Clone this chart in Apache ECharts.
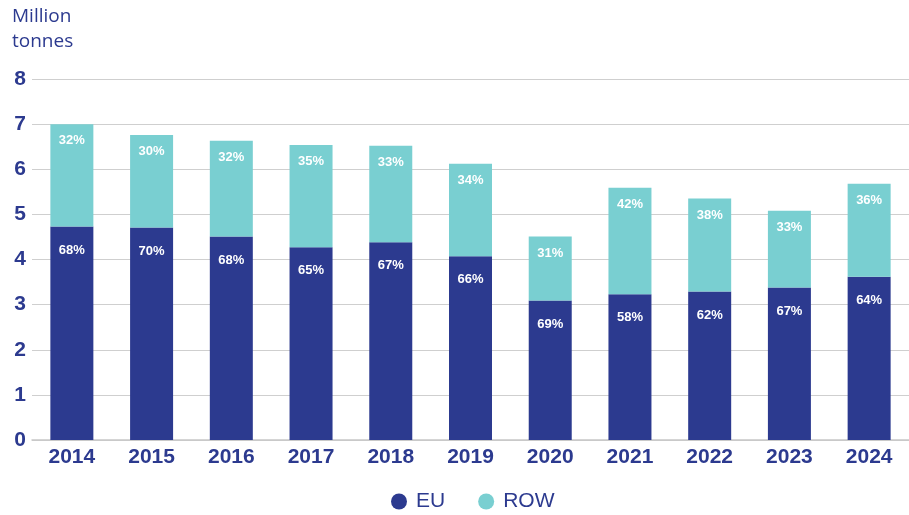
<!DOCTYPE html>
<html>
<head>
<meta charset="utf-8">
<script src="https://cdn.jsdelivr.net/npm/echarts@6/dist/echarts.min.js"></script>
<style>
  html, body { margin: 0; padding: 0; background: #ffffff; }
  #chart { width: 909px; height: 515px; }
</style>
</head>
<body>
<div id="chart"></div>
<script>
// years on the x axis
var years = ['2014', '2015', '2016', '2017', '2018', '2019', '2020', '2021', '2022', '2023', '2024'];
// million tonnes
var euValues  = [4.73, 4.71, 4.51, 4.27, 4.38, 4.07, 3.09, 3.23, 3.29, 3.38, 3.62];
var rowValues = [2.27, 2.05, 2.12, 2.27, 2.14, 2.05, 1.42, 2.36, 2.06, 1.70, 2.06];
// share labels printed on the bars
var euShare  = ['68%', '70%', '68%', '65%', '67%', '66%', '69%', '58%', '62%', '67%', '64%'];
var rowShare = ['32%', '30%', '32%', '35%', '33%', '34%', '31%', '42%', '38%', '33%', '36%'];
var yTicks = [0, 1, 2, 3, 4, 5, 6, 7, 8];

var navy = '#2c3a8f';
var teal = '#79cfd1';

var chart = echarts.init(document.getElementById('chart'), null, { renderer: 'canvas' });

var option = {
    backgroundColor: '#ffffff',
    animation: false,
    title: {
        text: 'Million\ntonnes',
        left: 12,
        top: 4,
        padding: 0,
        textStyle: {
            color: navy,
            fontFamily: 'Open Sans',
            fontWeight: 'normal',
            fontSize: 19,
            lineHeight: 25
        }
    },
    legend: {
        top: 491,
        left: 391,
        padding: 0,
        icon: 'circle',
        itemWidth: 16,
        itemHeight: 16,
        itemGap: 33,
        textStyle: {
            color: navy,
            fontFamily: 'Liberation Sans',
            fontSize: 21,
            padding: [0, 0, 0, 4]
        },
        data: ['EU', 'ROW']
    },
    grid: {
        left: 32,
        right: -4,
        top: 79,
        bottom: 75
    },
    xAxis: {
        type: 'category',
        data: years,
        axisTick: { show: false },
        axisLine: { show: true, lineStyle: { color: '#c8c8c8', width: 1.5 } },
        axisLabel: {
            color: navy,
            fontFamily: 'Liberation Sans',
            fontWeight: 'bold',
            fontSize: 21,
            margin: 7
        }
    },
    yAxis: {
        type: 'value',
        min: yTicks[0],
        max: yTicks[yTicks.length - 1],
        interval: 1,
        axisLine: { show: false },
        axisTick: { show: false },
        splitLine: { lineStyle: { color: '#cfcfcf', width: 1.2 } },
        axisLabel: {
            color: navy,
            fontFamily: 'Liberation Sans',
            fontWeight: 'bold',
            fontSize: 21,
            margin: 6
        }
    },
    series: [
        {
            name: 'EU',
            type: 'bar',
            stack: 'total',
            barWidth: 43,
            data: euValues,
            itemStyle: { color: navy },
            label: {
                show: true,
                position: 'insideTop',
                distance: 17,
                color: '#ffffff',
                fontFamily: 'Liberation Sans',
                fontWeight: 'bold',
                fontSize: 13,
                formatter: function (p) { return euShare[p.dataIndex]; }
            }
        },
        {
            name: 'ROW',
            type: 'bar',
            stack: 'total',
            barWidth: 43,
            data: rowValues,
            itemStyle: { color: teal },
            label: {
                show: true,
                position: 'insideTop',
                distance: 10,
                color: '#ffffff',
                fontFamily: 'Liberation Sans',
                fontWeight: 'bold',
                fontSize: 13,
                formatter: function (p) { return rowShare[p.dataIndex]; }
            }
        }
    ]
};

chart.setOption(option);
</script>
</body>
</html>
